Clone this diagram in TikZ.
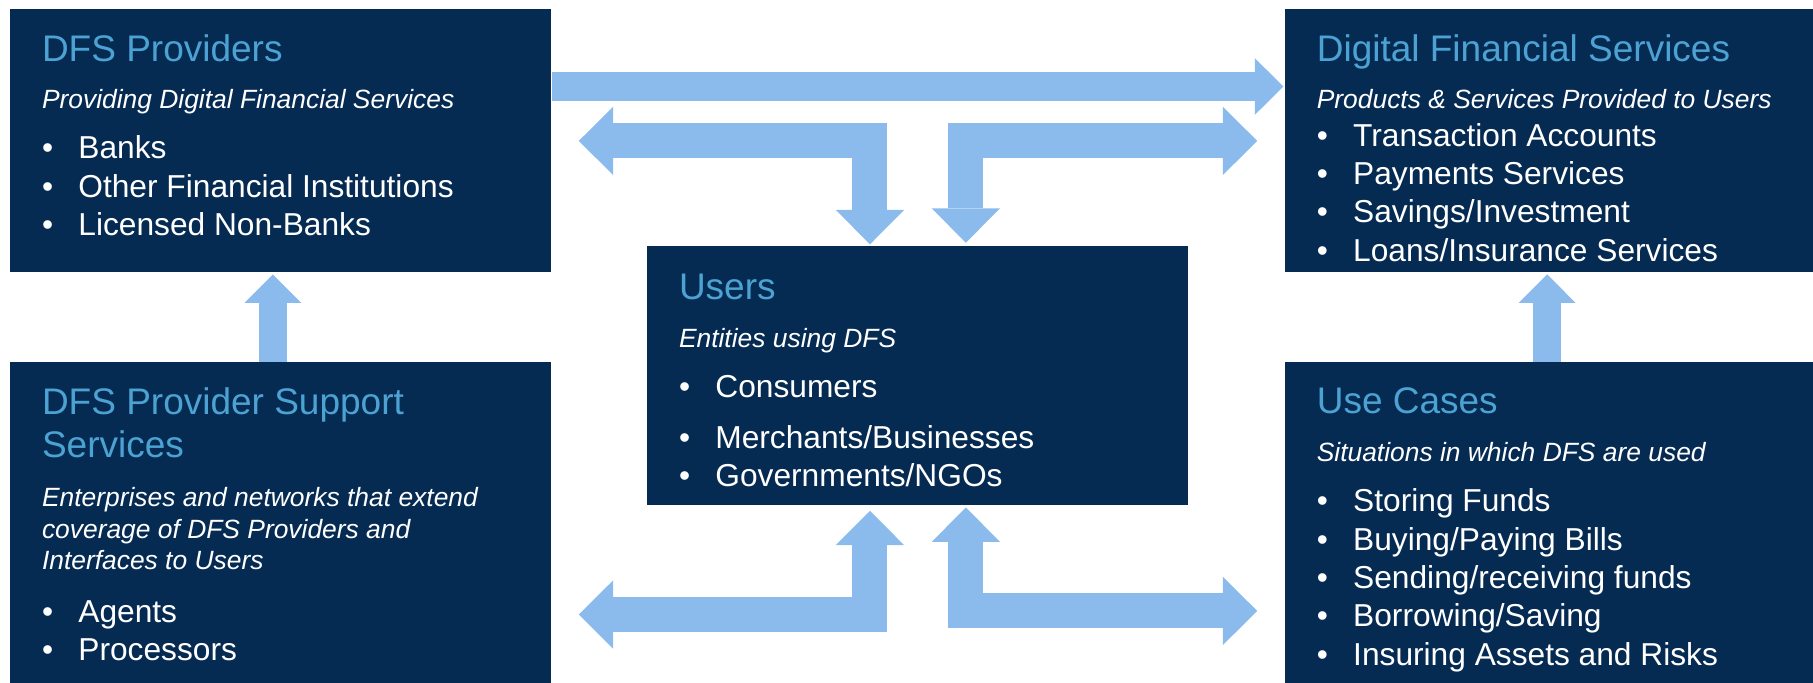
\documentclass[tikz,border=0pt]{standalone}
\usepackage{fontspec}
\setmainfont{Liberation Sans}
\usepackage{xcolor}
\usepackage{tikz}
\usetikzlibrary{positioning}
\usetikzlibrary{arrows.meta}

\definecolor{dfsnavy}{HTML}{062B53}
\definecolor{dfstitle}{HTML}{4CA3D3}
\definecolor{dfsarrow}{HTML}{8ABBEC}

\newcommand{\boxtitle}[1]{{\color{dfstitle}\fontsize{18.5}{22}\selectfont #1}}
\newcommand{\boxsub}[1]{{\itshape\fontsize{13.2}{15.6}\selectfont #1}}
\newcommand{\itm}[1]{\makebox[18.2pt][l]{\textbullet}#1}

\begin{document}
\begin{tikzpicture}[x=0.5pt,y=-0.5pt,node distance=44.5pt,
  box/.style={fill=dfsnavy,text=white,inner xsep=15.8pt,inner ysep=0pt,align=flush left,
              text width=238.9pt,text height=26pt,font=\fontsize{15.85}{19.15}\selectfont},
  flow/.style={draw=dfsarrow,line width=17.5pt,line join=miter,
               >={Triangle[length=17.2pt,width=34.2pt,line width=0pt]}},
  thinflow/.style={draw=dfsarrow,line width=14.25pt,
               >={Triangle[length=14.2pt,width=28.3pt,line width=0pt]}}]
\useasboundingbox (0,0) rectangle (1813,682);

\node[box,anchor=north west,text depth=105.5pt] (prov) at (10,9)
  {\boxtitle{DFS Providers}\\[4.5pt]
   \boxsub{Providing Digital Financial Services}\\[5.85pt]
   \itm{Banks}\\
   \itm{Other Financial Institutions}\\
   \itm{Licensed Non-Banks}};
\node[box,right=366.5pt of prov,text depth=105.5pt] (dfs)
  {\boxtitle{Digital Financial Services}\\[4.5pt]
   \boxsub{Products \& Services Provided to Users}\\[-0.45pt]
   \itm{Transaction Accounts}\\
   \itm{Payments Services}\\
   \itm{Savings/Investment}\\
   \itm{Loans/Insurance Services}};
\node[box,text width=238.65pt,text height=26.65pt,text depth=102.85pt,
      anchor=north west] (users) at (647,246)
  {\boxtitle{Users}\\[4.5pt]
   \boxsub{Entities using DFS}\\[5.85pt]
   \itm{Consumers}\\[6.65pt]
   \itm{Merchants/Businesses}\\
   \itm{Governments/NGOs}};
\node[box,below=of prov,text depth=134.5pt] (supp)
  {\boxtitle{DFS Provider Support}\\[2.7pt]
   \boxtitle{Services}\\[5.35pt]
   \boxsub{Enterprises and networks that extend}\\[-3.5pt]
   \boxsub{coverage of DFS Providers and}\\[-3.5pt]
   \boxsub{Interfaces to Users}\\[7.2pt]
   \itm{Agents}\\
   \itm{Processors}};
\node[box,below=of dfs,text height=25.85pt,text depth=134.65pt] (uses)
  {\boxtitle{Use Cases}\\[4.5pt]
   \boxsub{Situations in which DFS are used}\\[6.2pt]
   \itm{Storing Funds}\\
   \itm{Buying/Paying Bills}\\
   \itm{Sending/receiving funds}\\
   \itm{Borrowing/Saving}\\
   \itm{Insuring Assets and Risks}};

% arrows between the boxes
\draw[thinflow,->,shorten >=0.75pt] ([yshift=27.2pt]prov.east) -- ([yshift=27.2pt]dfs.west);
\draw[flow,<->,shorten <=13.5pt,shorten >=0.85pt] (prov.east) -| ([xshift=-23.85pt]users.north);
\draw[flow,<->,shorten <=13.8pt,shorten >=1.65pt] (dfs.west) -| ([xshift=24.1pt]users.north);
\draw[flow,<->,shorten <=13.5pt,shorten >=2.5pt] ([yshift=-45.9pt]supp.east) -| ([xshift=-23.85pt]users.south);
\draw[flow,<->,shorten <=13.8pt,shorten >=0.85pt] ([yshift=-44.1pt]uses.west) -| ([xshift=24.1pt]users.south);
\draw[thinflow,->,shorten >=0.8pt] ([xshift=-4pt]supp.north) -- ([xshift=-4pt]prov.south);
\draw[thinflow,->,shorten >=0.8pt] ([xshift=-4.25pt]uses.north) -- ([xshift=-4.25pt]dfs.south);
\end{tikzpicture}
\end{document}
